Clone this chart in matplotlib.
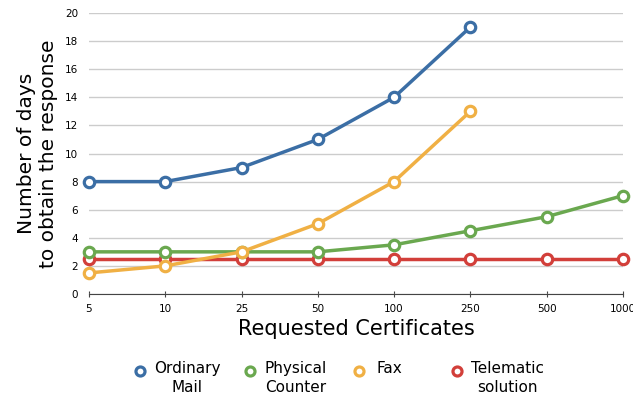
import matplotlib.pyplot as plt
from matplotlib.lines import Line2D

categories = ['5', '10', '25', '50', '100', '250', '500', '1000']
ordinaryMail = [8, 8, 9, 11, 14, 19]
physicalCounter = [3, 3, 3, 3, 3.5, 4.5, 5.5, 7]
fax = [1.5, 2, 3, 5, 8, 13]
telematic = [2.5, 2.5, 2.5, 2.5, 2.5, 2.5, 2.5, 2.5]

seriesNames = ['Ordinary\nMail', 'Physical\nCounter', 'Fax', 'Telematic\nsolution']
seriesColors = ['#3b6ea5', '#6aa84f', '#f0b044', '#d23f3a']
# draw order: telematic at bottom, then others
drawOrder = [3, 1, 2, 0]
allSeries = [ordinaryMail, physicalCounter, fax, telematic]

W, H = 633, 403
fig = plt.figure(figsize=(W / 100, H / 100), dpi=100)
ax = fig.add_axes([0.1406, 0.2705, 0.8434, 0.6972])

for i in drawOrder:
    vals = allSeries[i]
    ax.plot(range(len(vals)), vals, color=seriesColors[i], lw=2.5,
            marker='o', ms=7.5, mfc='white', mec=seriesColors[i], mew=2.3,
            clip_on=False, zorder=3)

ax.set_xlim(0, len(categories) - 1)
ax.set_ylim(0, 20)
ax.set_yticks(range(0, 21, 2))
ax.set_xticks(range(len(categories)))
ax.set_xticklabels(categories)
ax.tick_params(axis='both', labelsize=7.5)
ax.tick_params(axis='y', length=0, pad=8)
ax.tick_params(axis='x', length=4, color='#444444', direction='inout', pad=5)
ax.grid(axis='y', color='#cccccc', lw=1)
ax.set_axisbelow(True)
for s in ['top', 'right', 'left']:
    ax.spines[s].set_visible(False)
ax.spines['bottom'].set_color('#444444')
ax.spines['bottom'].set_zorder(1)

ax.set_xlabel('Requested Certificates', fontsize=15, labelpad=4)
ax.set_ylabel('Number of days\nto obtain the response', fontsize=14.5, labelpad=5)

# legend drawn by hand: marker + centered two-line label
markerX = [140, 250, 359, 457]
textX = [187, 296, 389, 507]
for mx, tx, name, c in zip(markerX, textX, seriesNames, seriesColors):
    fig.add_artist(Line2D([mx / W], [1 - 371 / H], transform=fig.transFigure,
                          linestyle='', marker='o', ms=6.5, mfc='white',
                          mec=c, mew=2.3))
    fig.text(tx / W, 1 - 361 / H, name, ha='center', va='top', fontsize=11,
             multialignment='center', linespacing=1.3)

fig.savefig('out.png', dpi=100)
